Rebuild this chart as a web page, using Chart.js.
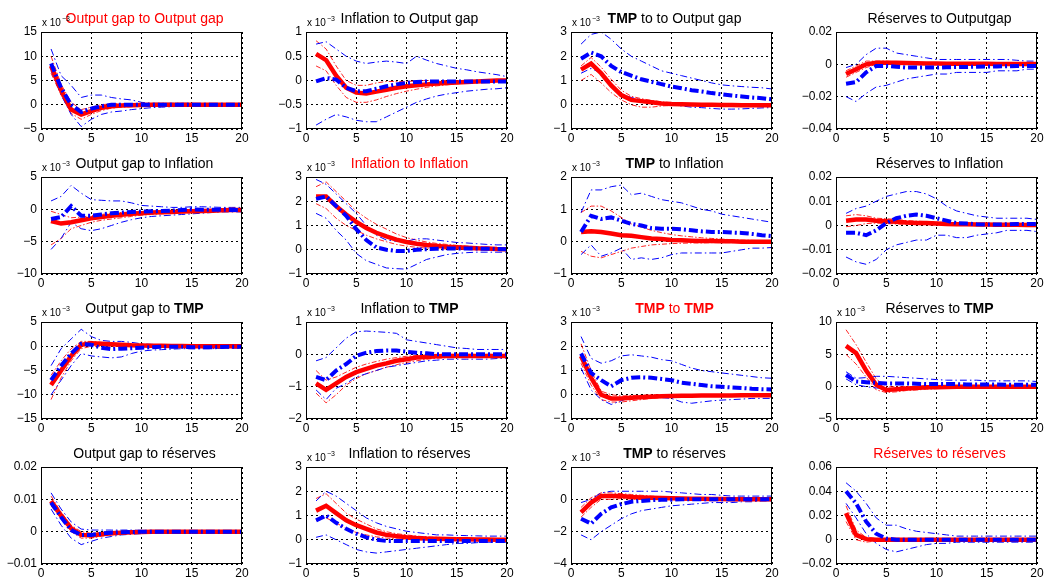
<!DOCTYPE html>
<html>
<head>
<meta charset="utf-8">
<script src="https://cdn.jsdelivr.net/npm/chart.js@4/dist/chart.umd.min.js"></script>
<style>
  body { margin: 0; background: #fff; }
  .panel { position: absolute; }
</style>
</head>
<body>
<script>
// horizons (x axis)
const horizons = [1, 2, 3, 4, 5, 6, 7, 8, 9, 10, 11, 12, 13, 14, 15, 16, 17, 18, 19, 20];

const titles = [
  "Output gap to Output gap", "Inflation to Output gap", "TMP to to Output gap", "Réserves to Outputgap",
  "Output gap to Inflation", "Inflation to Inflation", "TMP to Inflation", "Réserves to Inflation",
  "Output gap to TMP", "Inflation to TMP", "TMP to TMP", "Réserves to TMP",
  "Output gap to réserves", "Inflation to réserves", "TMP to réserves", "Réserves to réserves"
];

// panels whose axis shows "x 10^-3"
const scaled = [true, true, true, false, true, true, true, false, true, true, true, true, false, true, true, false];

// y axis ticks
const yMin  = [-5, -1, -1, -0.04, -10, -1, -1, -0.02, -15, -2, -1, -5, -0.01, -1, -4, -0.02];
const yMax  = [15, 1, 3, 0.02, 5, 3, 2, 0.02, 5, 1, 3, 10, 0.02, 3, 2, 0.06];
const yStep = [5, 0.5, 1, 0.02, 5, 1, 1, 0.01, 5, 1, 1, 5, 0.01, 1, 2, 0.02];

// red: solid median and thin bands
const redMid = [
  [8, 3, -1, -2, -1.3, -0.6, -0.3, -0.15, -0.1, -0.05, 0, 0, 0, 0, 0, 0, 0, 0, 0, 0],
  [0.55, 0.42, 0.1, -0.15, -0.25, -0.27, -0.23, -0.19, -0.15, -0.12, -0.1, -0.08, -0.06, -0.05, -0.04, -0.03, -0.02, -0.01, 0, 0],
  [1.45, 1.7, 1.3, 0.8, 0.4, 0.2, 0.15, 0.1, 0.05, 0.03, 0.02, 0.01, 0, 0, -0.01, -0.01, -0.02, -0.02, -0.02, -0.02],
  [-0.006, -0.003, 0, 0.001, 0.001, 0.001, 0.0008, 0.0006, 0.0005, 0.0005, 0.0004, 0.0004, 0.0003, 0.0003, 0.0003, 0.0002, 0.0002, 0.0002, 0.0002, 0.0002],
  [-1.8, -2.2, -2.0, -1.7, -1.4, -1.2, -1.0, -0.85, -0.7, -0.6, -0.5, -0.45, -0.4, -0.35, -0.3, -0.25, -0.2, -0.15, -0.1, -0.1],
  [2.2, 2.2, 1.8, 1.45, 1.15, 0.9, 0.7, 0.55, 0.42, 0.32, 0.25, 0.2, 0.16, 0.12, 0.1, 0.08, 0.06, 0.05, 0.03, 0.02],
  [0.3, 0.32, 0.3, 0.25, 0.2, 0.18, 0.14, 0.1, 0.08, 0.05, 0.04, 0.03, 0.02, 0.02, 0.01, 0.01, 0, 0, 0, 0],
  [0.002, 0.0025, 0.0025, 0.002, 0.0018, 0.0015, 0.0012, 0.001, 0.001, 0.0008, 0.0006, 0.0005, 0.0005, 0.0004, 0.0004, 0.0003, 0.0003, 0.0003, 0.0002, 0.0002],
  [-8, -5, -2, 0.3, 0.6, 0.5, 0.4, 0.3, 0.2, 0.15, 0.1, 0.1, 0.05, 0.05, 0, 0, 0, 0, 0, 0],
  [-0.9, -1.1, -0.9, -0.7, -0.55, -0.45, -0.35, -0.28, -0.2, -0.15, -0.1, -0.08, -0.06, -0.05, -0.05, -0.05, -0.05, -0.05, -0.05, -0.05],
  [1.6, 0.7, 0, -0.15, -0.15, -0.12, -0.1, -0.08, -0.06, -0.05, -0.04, -0.04, -0.03, -0.03, -0.03, -0.03, -0.02, -0.02, -0.02, -0.02],
  [6.3, 5.2, 2.5, 0.3, -0.5, -0.4, -0.3, -0.2, -0.1, -0.1, -0.05, 0, 0, 0, 0, 0, 0, 0, 0, 0],
  [0.0095, 0.005, 0.001, -0.001, -0.0012, -0.0008, -0.0005, -0.0003, -0.0002, -0.0001, 0, 0, 0, 0, 0, 0, 0, 0, 0, 0],
  [1.2, 1.4, 1.1, 0.8, 0.6, 0.45, 0.3, 0.2, 0.15, 0.1, 0.07, 0.05, 0.04, 0.03, 0.02, 0.02, 0.01, 0.01, 0, 0],
  [-0.8, -0.2, 0.2, 0.2, 0.2, 0.15, 0.12, 0.1, 0.08, 0.06, 0.05, 0.04, 0.03, 0.02, 0.02, 0.01, 0.01, 0, 0, 0],
  [0.022, 0.004, 0.0005, 0, 0, 0, 0, 0, 0, 0, 0, 0, 0, 0, 0, 0, 0, 0, 0, 0]
];
const redHi = [
  [10, 4.2, 0.5, -1, -0.5, 0, 0.2, 0.2, 0.2, 0.15, 0.1, 0.1, 0.1, 0.1, 0.05, 0.05, 0.05, 0, 0, 0],
  [0.82, 0.65, 0.3, 0, -0.1, -0.1, -0.05, -0.02, -0.02, -0.02, -0.01, 0, 0, 0, 0, 0, 0, 0, 0, 0],
  [1.6, 1.95, 1.55, 1.05, 0.6, 0.35, 0.25, 0.18, 0.12, 0.08, 0.05, 0.04, 0.03, 0.02, 0.02, 0.01, 0.01, 0, 0, 0],
  [-0.004, -0.001, 0.002, 0.002, 0.002, 0.0015, 0.0012, 0.001, 0.001, 0.0008, 0.0008, 0.0006, 0.0006, 0.0005, 0.0005, 0.0005, 0.0004, 0.0004, 0.0004, 0.0004],
  [-0.3, -0.8, -1.3, -1.2, -1.0, -0.8, -0.6, -0.5, -0.4, -0.35, -0.3, -0.25, -0.2, -0.15, -0.1, -0.1, -0.05, 0, 0, 0],
  [2.6, 2.8, 2.4, 2.0, 1.6, 1.3, 1.05, 0.85, 0.65, 0.5, 0.4, 0.32, 0.26, 0.22, 0.18, 0.15, 0.12, 0.1, 0.08, 0.07],
  [0.9, 1.1, 1.1, 0.95, 0.75, 0.55, 0.45, 0.35, 0.28, 0.22, 0.18, 0.15, 0.12, 0.1, 0.08, 0.06, 0.05, 0.04, 0.03, 0.02],
  [0.004, 0.0045, 0.004, 0.003, 0.0028, 0.0025, 0.002, 0.0018, 0.0016, 0.0014, 0.0012, 0.001, 0.0009, 0.0008, 0.0007, 0.0006, 0.0006, 0.0005, 0.0005, 0.0005],
  [-6, -3, -0.5, 1, 1, 0.8, 0.6, 0.5, 0.4, 0.3, 0.25, 0.2, 0.2, 0.15, 0.1, 0.1, 0.1, 0.1, 0.05, 0.05],
  [-0.5, -0.8, -0.7, -0.55, -0.4, -0.3, -0.22, -0.15, -0.1, -0.06, -0.04, -0.02, 0, 0, 0, 0, 0, 0, 0, 0],
  [2.1, 1.0, 0.15, 0, -0.05, -0.03, -0.02, 0, 0, 0, 0, 0, 0, 0, 0, 0, 0, 0, 0, 0],
  [8.8, 6.5, 3.8, 1.2, 0, 0, 0, 0, 0.1, 0.1, 0.1, 0.1, 0.1, 0.1, 0.1, 0.1, 0.1, 0.1, 0.1, 0.1],
  [0.011, 0.006, 0.002, 0, -0.0005, -0.0003, -0.0001, 0, 0, 0, 0, 0, 0, 0, 0, 0, 0, 0, 0, 0],
  [1.7, 1.9, 1.5, 1.1, 0.85, 0.65, 0.45, 0.33, 0.25, 0.2, 0.15, 0.12, 0.1, 0.08, 0.07, 0.06, 0.05, 0.05, 0.04, 0.04],
  [-0.5, 0.1, 0.4, 0.4, 0.35, 0.3, 0.25, 0.2, 0.16, 0.12, 0.1, 0.08, 0.06, 0.05, 0.04, 0.03, 0.03, 0.02, 0.02, 0.02],
  [0.028, 0.008, 0.002, 0.001, 0.0008, 0.0006, 0.0005, 0.0004, 0.0003, 0.0003, 0.0002, 0.0002, 0.0002, 0.0002, 0.0002, 0.0002, 0.0002, 0.0002, 0.0002, 0.0002]
];
const redLo = [
  [6.5, 2, -1.8, -3, -2, -1.2, -0.7, -0.5, -0.4, -0.3, -0.2, -0.2, -0.15, -0.1, -0.1, -0.1, -0.05, -0.05, 0, 0],
  [0.3, 0.2, -0.1, -0.35, -0.45, -0.45, -0.4, -0.33, -0.27, -0.22, -0.18, -0.14, -0.11, -0.09, -0.07, -0.05, -0.04, -0.03, -0.02, -0.01],
  [1.0, 1.25, 0.9, 0.5, 0.2, 0, -0.1, -0.1, -0.05, -0.03, -0.03, -0.03, -0.03, -0.03, -0.03, -0.03, -0.03, -0.03, -0.03, -0.03],
  [-0.008, -0.005, -0.002, 0, 0, 0, 0, 0, 0, 0, 0, 0, 0, 0, 0, 0, 0, 0, 0, 0],
  [-5.5, -4.5, -3.0, -2.5, -2.0, -1.7, -1.5, -1.3, -1.1, -0.9, -0.8, -0.7, -0.6, -0.55, -0.5, -0.45, -0.4, -0.35, -0.3, -0.3],
  [1.9, 1.7, 1.3, 1.0, 0.8, 0.6, 0.45, 0.33, 0.22, 0.15, 0.1, 0.07, 0.05, 0.03, 0.02, 0.01, 0, 0, 0, 0],
  [-0.3, -0.45, -0.5, -0.4, -0.3, -0.2, -0.15, -0.1, -0.08, -0.06, -0.05, -0.04, -0.04, -0.03, -0.03, -0.03, -0.02, -0.02, -0.02, -0.02],
  [-0.0005, 0, 0.0008, 0.001, 0.0008, 0.0006, 0.0005, 0.0004, 0.0003, 0.0002, 0.0001, 0, 0, 0, 0, 0, 0, 0, 0, 0],
  [-11, -6.5, -3, -0.5, 0, 0, 0, 0, 0, -0.05, -0.05, -0.1, -0.1, -0.1, -0.1, -0.1, -0.1, -0.1, -0.1, -0.1],
  [-1.2, -1.5, -1.25, -0.95, -0.75, -0.6, -0.5, -0.4, -0.32, -0.25, -0.2, -0.15, -0.12, -0.1, -0.09, -0.08, -0.08, -0.08, -0.08, -0.08],
  [1.3, 0.4, -0.2, -0.3, -0.3, -0.25, -0.2, -0.15, -0.12, -0.1, -0.08, -0.07, -0.06, -0.05, -0.05, -0.04, -0.04, -0.04, -0.04, -0.04],
  [5, 3.5, 1.5, -0.5, -0.9, -0.8, -0.6, -0.5, -0.4, -0.3, -0.2, -0.2, -0.1, -0.1, -0.1, -0.1, -0.1, -0.1, -0.1, -0.1],
  [0.008, 0.004, 0, -0.002, -0.002, -0.0014, -0.001, -0.0007, -0.0005, -0.0004, -0.0003, -0.0002, -0.0002, -0.0001, -0.0001, -0.0001, -0.0001, 0, 0, 0],
  [0.8, 0.9, 0.7, 0.45, 0.3, 0.2, 0.12, 0.07, 0.04, 0.02, 0, -0.01, -0.02, -0.02, -0.02, -0.02, -0.02, -0.02, -0.02, -0.02],
  [-1.1, -0.5, 0, 0, 0.05, 0.02, 0, 0, 0, 0, 0, 0, 0, 0, 0, 0, 0, 0, 0, 0],
  [0.015, 0, -0.002, -0.001, -0.0008, -0.0005, -0.0003, -0.0002, -0.0002, -0.0001, -0.0001, 0, 0, 0, 0, 0, 0, 0, 0, 0]
];

// blue: thick dash-dot median and thin bands
const blueMid = [
  [8.5, 3.5, 0, -1.5, -0.8, -0.3, 0, 0, 0, 0, 0, 0, 0, 0, 0, 0, 0, 0, 0, 0],
  [-0.02, 0.05, 0.02, -0.15, -0.22, -0.22, -0.17, -0.12, -0.08, -0.05, -0.03, -0.02, -0.02, -0.02, -0.02, -0.02, -0.02, -0.02, -0.02, -0.02],
  [1.9, 2.15, 2.0, 1.6, 1.35, 1.2, 1.05, 0.95, 0.85, 0.75, 0.68, 0.6, 0.55, 0.48, 0.43, 0.38, 0.34, 0.3, 0.27, 0.22],
  [-0.012, -0.011, -0.005, -0.001, -0.001, -0.0015, -0.002, -0.002, -0.002, -0.002, -0.0018, -0.0017, -0.0016, -0.0015, -0.0014, -0.0013, -0.0012, -0.0011, -0.001, -0.001],
  [-1.5, -1.2, 0.5, -1.0, -1.0, -0.8, -0.6, -0.5, -0.4, -0.35, -0.3, -0.25, -0.2, -0.1, 0, -0.05, -0.05, -0.05, -0.1, -0.1],
  [2.1, 2.2, 1.8, 1.4, 0.85, 0.4, 0.1, 0, -0.05, -0.05, 0, 0.02, 0.04, 0.05, 0.05, 0.05, 0.05, 0.04, 0.03, 0.02],
  [0.3, 0.8, 0.7, 0.75, 0.65, 0.55, 0.5, 0.42, 0.4, 0.4, 0.38, 0.35, 0.32, 0.3, 0.3, 0.28, 0.27, 0.24, 0.2, 0.17],
  [-0.003, -0.003, -0.004, -0.002, 0.001, 0.003, 0.004, 0.0045, 0.004, 0.003, 0.002, 0.001, 0.0008, 0.0005, 0.0004, 0.0004, 0.0005, 0.0006, 0.0006, 0.0006],
  [-7, -4, -1.5, 0.5, 0.3, -0.3, -0.6, -0.5, -0.4, -0.3, -0.2, -0.1, -0.1, -0.1, -0.2, -0.2, -0.2, -0.15, -0.1, -0.1],
  [-0.7, -0.8, -0.5, -0.3, -0.05, 0.05, 0.1, 0.12, 0.12, 0.08, 0.05, 0.03, 0, 0, 0, 0, 0, 0, 0, 0],
  [1.7, 0.9, 0.6, 0.35, 0.6, 0.7, 0.72, 0.7, 0.65, 0.6, 0.5, 0.45, 0.4, 0.35, 0.33, 0.3, 0.28, 0.25, 0.23, 0.22],
  [1.8, 0.8, 0.7, 0.6, 0.5, 0.5, 0.5, 0.45, 0.4, 0.4, 0.4, 0.4, 0.35, 0.35, 0.35, 0.35, 0.3, 0.3, 0.3, 0.3],
  [0.009, 0.0045, 0.0005, -0.001, -0.001, -0.0006, -0.0003, -0.0002, -0.0001, 0, 0, 0, 0, 0, 0, 0, 0, 0, 0, 0],
  [0.8, 1.0, 0.7, 0.45, 0.25, 0.1, 0, -0.05, -0.05, -0.05, -0.05, -0.05, -0.05, -0.05, -0.05, -0.05, -0.05, -0.05, -0.05, -0.05],
  [-1.2, -1.5, -0.9, -0.5, -0.3, -0.15, -0.1, -0.05, -0.03, -0.02, 0, 0, 0, 0, 0, 0, 0, 0, 0, 0],
  [0.04, 0.03, 0.015, 0.005, 0.001, 0, 0, 0, 0, 0, 0, 0, 0, 0, 0, 0, 0, 0, 0, 0]
];
const blueHi = [
  [11.5, 6, 4, 1.5, 2, 2, 1.5, 1.2, 1, 0.5, 0.3, 0.3, 0.3, 0.3, 0.3, 0.2, 0.2, 0.2, 0.2, 0.2],
  [0.75, 0.8, 0.65, 0.5, 0.4, 0.35, 0.38, 0.4, 0.38, 0.35, 0.5, 0.42, 0.35, 0.3, 0.25, 0.22, 0.18, 0.15, 0.12, 0.08],
  [2.5, 2.9, 3.0, 2.7, 2.3, 2.0, 1.8, 1.6, 1.4, 1.3, 1.2, 1.1, 1.0, 0.9, 0.82, 0.78, 0.75, 0.72, 0.7, 0.65],
  [-0.002, 0, 0.006, 0.01, 0.01, 0.007, 0.006, 0.005, 0.004, 0.003, 0.003, 0.003, 0.003, 0.003, 0.003, 0.003, 0.003, 0.0025, 0.002, 0.002],
  [1.3, 2, 3.7, 2.5, 1.5, 1.4, 1.3, 1.3, 1.0, 0.6, 0.5, 0.4, 0.3, 0.3, 0.4, 0.4, 0.35, 0.3, 0.3, 0.3],
  [2.9, 2.7, 2.3, 1.9, 1.5, 1.0, 0.6, 0.4, 0.35, 0.35, 0.45, 0.45, 0.4, 0.35, 0.3, 0.28, 0.25, 0.22, 0.2, 0.2],
  [0.9, 1.6, 1.6, 1.7, 1.75, 1.45, 1.5, 1.4, 1.3, 1.25, 1.2, 1.1, 1.0, 0.95, 0.85, 0.8, 0.75, 0.7, 0.65, 0.6],
  [0.005, 0.007, 0.008, 0.01, 0.012, 0.013, 0.014, 0.014, 0.013, 0.011, 0.008, 0.006, 0.005, 0.004, 0.0035, 0.003, 0.003, 0.003, 0.003, 0.0025],
  [-4, -0.5, 1.5, 3.5, 2, 1.2, 1, 1, 0.8, 0.5, 0.4, 0.3, 0.3, 0.3, 0.3, 0.3, 0.3, 0.3, 0.3, 0.3],
  [-0.2, -0.1, 0.2, 0.5, 0.7, 0.72, 0.7, 0.68, 0.65, 0.45, 0.4, 0.35, 0.3, 0.25, 0.2, 0.18, 0.15, 0.15, 0.15, 0.15],
  [2.4, 1.5, 1.3, 1.4, 1.6, 1.65, 1.6, 1.55, 1.45, 1.4, 1.25, 1.1, 1.0, 0.95, 0.9, 0.85, 0.8, 0.75, 0.7, 0.68],
  [2.3, 1.3, 1.4, 1.6, 1.6, 1.5, 1.4, 1.3, 1.2, 1.1, 1.0, 1.0, 1.0, 1.0, 0.9, 0.9, 0.9, 0.9, 0.9, 0.8],
  [0.012, 0.007, 0.003, 0.0008, 0.0005, 0.0005, 0.0005, 0.0005, 0.0005, 0.0004, 0.0004, 0.0003, 0.0003, 0.0003, 0.0003, 0.0003, 0.0003, 0.0003, 0.0003, 0.0003],
  [1.6, 2.0, 1.8, 1.5, 1.2, 0.9, 0.7, 0.55, 0.45, 0.35, 0.3, 0.25, 0.2, 0.2, 0.18, 0.17, 0.16, 0.15, 0.15, 0.15],
  [-0.2, 0, 0.4, 0.5, 0.5, 0.5, 0.5, 0.5, 0.5, 0.45, 0.4, 0.35, 0.3, 0.3, 0.25, 0.2, 0.2, 0.2, 0.2, 0.2],
  [0.047, 0.04, 0.03, 0.018, 0.012, 0.012, 0.009, 0.007, 0.006, 0.005, 0.004, 0.003, 0.003, 0.003, 0.003, 0.003, 0.003, 0.003, 0.003, 0.003]
];
const blueLo = [
  [7, 2, -2, -4.5, -3, -2, -1.5, -1.3, -1, -0.8, -0.6, -0.5, -0.4, -0.3, -0.3, -0.3, -0.2, -0.2, -0.2, -0.2],
  [-0.92, -0.8, -0.7, -0.75, -0.82, -0.85, -0.85, -0.75, -0.65, -0.55, -0.45, -0.38, -0.32, -0.28, -0.25, -0.22, -0.2, -0.18, -0.17, -0.15],
  [1.3, 1.5, 1.3, 0.8, 0.45, 0.3, 0.2, 0.1, 0.05, 0, -0.05, -0.1, -0.12, -0.15, -0.18, -0.18, -0.17, -0.15, -0.13, -0.12],
  [-0.02, -0.023, -0.018, -0.014, -0.013, -0.011, -0.009, -0.008, -0.007, -0.006, -0.006, -0.005, -0.005, -0.005, -0.005, -0.004, -0.004, -0.004, -0.003, -0.003],
  [-6.2, -4.5, -2.0, -3.0, -3.3, -3.0, -2.5, -2.0, -1.6, -1.3, -1.1, -1.0, -0.9, -0.8, -0.7, -0.6, -0.5, -0.4, -0.4, -0.4],
  [1.5, 1.3, 0.8, 0.4, -0.15, -0.45, -0.6, -0.75, -0.78, -0.8, -0.6, -0.4, -0.3, -0.2, -0.15, -0.12, -0.1, -0.1, -0.1, -0.1],
  [-0.4, -0.1, -0.45, -0.35, -0.2, -0.55, -0.5, -0.55, -0.5, -0.4, -0.35, -0.35, -0.35, -0.35, -0.35, -0.3, -0.25, -0.2, -0.2, -0.18],
  [-0.013, -0.015, -0.016, -0.014, -0.01, -0.008, -0.007, -0.006, -0.006, -0.004, -0.004, -0.005, -0.005, -0.004, -0.0035, -0.003, -0.002, -0.002, -0.002, -0.0025],
  [-10, -7, -4, -1.5, -2, -2.2, -2.4, -2.2, -1.5, -1.0, -0.8, -0.7, -0.6, -0.5, -0.5, -0.5, -0.5, -0.4, -0.4, -0.4],
  [-1.1, -1.4, -1.05, -0.9, -0.7, -0.6, -0.5, -0.4, -0.35, -0.3, -0.25, -0.2, -0.18, -0.15, -0.15, -0.15, -0.15, -0.15, -0.13, -0.12],
  [1.1, 0.2, -0.2, -0.4, -0.25, -0.1, -0.05, -0.08, -0.12, -0.15, -0.3, -0.35, -0.3, -0.25, -0.22, -0.2, -0.18, -0.15, -0.15, -0.15],
  [1.2, 0.3, 0, -0.2, -0.3, -0.3, -0.2, -0.2, -0.2, -0.2, -0.2, -0.2, -0.2, -0.2, -0.2, -0.2, -0.2, -0.2, -0.2, -0.2],
  [0.007, 0.002, -0.002, -0.004, -0.003, -0.002, -0.0015, -0.001, -0.0008, -0.0006, -0.0005, -0.0004, -0.0004, -0.0003, -0.0003, -0.0003, -0.0003, -0.0003, -0.0003, -0.0003],
  [0.1, 0.2, 0, -0.2, -0.4, -0.5, -0.55, -0.5, -0.45, -0.4, -0.35, -0.3, -0.25, -0.2, -0.15, -0.15, -0.12, -0.1, -0.1, -0.1],
  [-2.2, -2.5, -2.0, -1.6, -1.2, -0.9, -0.7, -0.6, -0.5, -0.4, -0.35, -0.3, -0.25, -0.2, -0.2, -0.2, -0.15, -0.15, -0.1, -0.1],
  [0.03, 0.018, 0.005, -0.003, -0.008, -0.01, -0.008, -0.006, -0.004, -0.003, -0.003, -0.002, -0.002, -0.002, -0.002, -0.002, -0.002, -0.002, -0.002, -0.002]
];

const FONT = "'Liberation Sans', Arial, Helvetica, sans-serif";
const plotLefts = [41, 306, 571, 836];
const plotW = 201, plotH = 97;
const padTop = 32, yAxisW = 44, xAxisH = 16, padRight = 10;

function fmt(v) {
  const s = String(Math.round(v * 1e6) / 1e6);
  return s.replace('-', '\u2212');
}

function pts(arr) {
  return horizons.map((h, k) => ({ x: h, y: arr[k] }));
}

// title, exponent label and box drawn around the plot area
const panelText = {
  id: 'panelText',
  afterDraw(chart, args, opts) {
    const ctx = chart.ctx;
    const a = chart.chartArea;
    ctx.save();
    ctx.strokeStyle = '#000';
    ctx.lineWidth = 1;
    ctx.setLineDash([]);
    ctx.strokeRect(Math.round(a.left) + 0.5, Math.round(a.top) + 0.5,
                   Math.round(a.right - a.left) - 1, Math.round(a.bottom - a.top) - 1);

    // title, with TMP in bold
    const parts = opts.title.split(/(TMP)/).filter(p => p.length);
    const fontOf = p => (p === 'TMP' ? 'bold ' : '') + '14px ' + FONT;
    let total = 0;
    parts.forEach(p => { ctx.font = fontOf(p); total += ctx.measureText(p).width; });
    let x = (a.left + a.right) / 2 + 3 - total / 2;
    ctx.fillStyle = opts.red ? '#ff0000' : '#000';
    ctx.textBaseline = 'alphabetic';
    ctx.textAlign = 'left';
    parts.forEach(p => {
      ctx.font = fontOf(p);
      ctx.fillText(p, x, a.top - 9);
      x += ctx.measureText(p).width;
    });

    if (opts.scaled) {
      ctx.fillStyle = '#000';
      ctx.font = '10px ' + FONT;
      ctx.fillText('x 10', a.left + 1, a.top - 6);
      const w = ctx.measureText('x 10').width;
      ctx.font = '7px ' + FONT;
      ctx.fillText('\u22123', a.left + 1 + w + 1, a.top - 11);
    }
    ctx.restore();
  }
};

titles.forEach((title, i) => {
  const col = i % 4, row = Math.floor(i / 4);
  const left = plotLefts[col] - yAxisW;
  const top = 32 + 145 * row - padTop;
  const w = yAxisW + plotW + padRight;
  const h = padTop + plotH + xAxisH;

  const div = document.createElement('div');
  div.className = 'panel';
  div.style.left = left + 'px';
  div.style.top = top + 'px';
  const canvas = document.createElement('canvas');
  canvas.width = w;
  canvas.height = h;
  div.appendChild(canvas);
  document.body.appendChild(div);

  const thickBlue = { borderColor: '#0000ff', borderWidth: 4, borderDash: [9, 3, 2, 3] };
  const thinBlue = { borderColor: '#0000ff', borderWidth: 1, borderDash: [7, 3, 1.5, 3] };
  const thickRed = { borderColor: '#ff0000', borderWidth: 4.5, borderDash: [] };
  const thinRed = { borderColor: 'rgba(255,0,0,0.85)', borderWidth: 1, borderDash: [5, 2, 1.5, 2] };

  new Chart(canvas, {
    type: 'line',
    data: {
      datasets: [
        { label: 'blue', data: pts(blueMid[i]), ...thickBlue },
        { label: 'red', data: pts(redMid[i]), ...thickRed },
        { label: 'blue hi', data: pts(blueHi[i]), ...thinBlue },
        { label: 'blue lo', data: pts(blueLo[i]), ...thinBlue },
        { label: 'red hi', data: pts(redHi[i]), ...thinRed },
        { label: 'red lo', data: pts(redLo[i]), ...thinRed }
      ]
    },
    options: {
      responsive: false,
      animation: false,
      devicePixelRatio: 1,
      layout: { padding: { top: padTop, right: padRight, left: 0, bottom: 0 } },
      elements: {
        point: { radius: 0 },
        line: { tension: 0, fill: false, borderCapStyle: 'butt' }
      },
      plugins: {
        legend: { display: false },
        tooltip: { enabled: false },
        panelText: { title: title, red: row === col, scaled: scaled[i] }
      },
      scales: {
        x: {
          type: 'linear',
          min: 0,
          max: 20,
          afterFit: (s) => { s.height = xAxisH; },
          ticks: { stepSize: 5, padding: 2, color: '#000', font: { family: FONT, size: 12 }, maxRotation: 0 },
          grid: { color: '#000', lineWidth: 1, drawTicks: false },
          border: { display: false, dash: [2, 3] }
        },
        y: {
          min: yMin[i],
          max: yMax[i],
          afterFit: (s) => { s.width = yAxisW; },
          ticks: { stepSize: yStep[i], padding: 4, color: '#000', font: { family: FONT, size: 12 }, callback: (v) => fmt(v) },
          grid: { color: '#000', lineWidth: 1, drawTicks: false },
          border: { display: false, dash: [2, 3] }
        }
      }
    },
    plugins: [panelText]
  });
});
</script>
</body>
</html>
